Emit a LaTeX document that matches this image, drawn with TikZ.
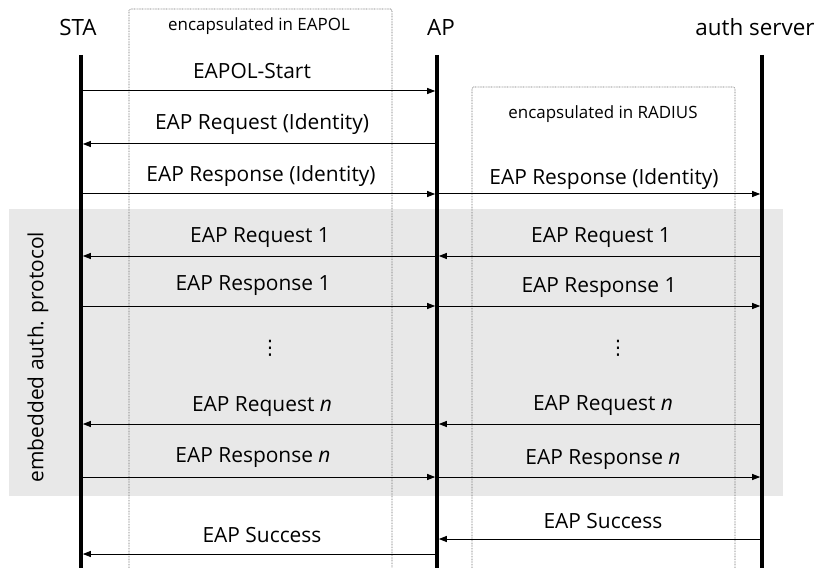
\documentclass[tikz,border=0pt]{standalone}
\usepackage{fontspec}
\setmainfont{Open Sans}
\newfontfamily\symbolfont{DejaVu Sans}
\usetikzlibrary{arrows.meta}
\definecolor{bandgray}{HTML}{E8E8E8}
\definecolor{boxline}{HTML}{707070}
\begin{document}
\begin{tikzpicture}[x=1bp,y=-1bp,
  lifeline/.style={line width=3.5bp},
  msg/.style={line width=1bp,-{Triangle[length=8bp,width=6bp]},shorten >=1.8bp,shorten <=1.8bp},
  lbl/.style={font=\fontsize{21}{24}\selectfont,inner sep=0pt},
  title/.style={font=\fontsize{22.5}{26}\selectfont,inner sep=0pt},
  small/.style={font=\fontsize{17}{20}\selectfont,inner sep=0pt},
  vdot/.style={font=\symbolfont\fontsize{20}{24}\selectfont,inner sep=0pt},
  encbox/.style={draw=boxline,line width=0.7bp,dash pattern=on 0.8bp off 0.8bp,rounded corners=1.5bp}]
\useasboundingbox (0,0) rectangle (823,568);
\clip (0,0) rectangle (823,568);

% shaded band of the embedded protocol
\fill[bandgray] (9,209) rectangle (783,496);
\node[lbl,rotate=90] (embedded) at (38,357) {embedded auth. protocol};

% encapsulation boxes
\draw[encbox] (129,600) -- (129,9) -- (392,9) -- (392,600);
\node[small] (eapol) at (259,26) {encapsulated in EAPOL};
\draw[encbox] (472,600) -- (472,87) -- (735,87) -- (735,600);
\node[small] (radius) at (603,114) {encapsulated in RADIUS};

% participants and lifelines
\node[title] (sta) at (78,27) {STA};
\node[title] (ap) at (441,27) {AP};
\node[title] (as) at (755,27) {auth server};
\foreach \n/\x in {sta/81,ap/437,as/762}{
  \coordinate (\n-top) at (\x,55);
  \coordinate (\n-bot) at (\x,580);
  \draw[lifeline] (\n-top) -- (\n-bot);
  \foreach \k/\y in {1/91,2/144,3/194,4/256,5/306,6/424,7/477,8/554,9/539}{
    \coordinate (\n\k) at (\x,\y);
  }
}

% messages between STA and AP
\draw[msg] (sta1) -- (ap1);
\node[lbl] (m1) at (252,71) {EAPOL-Start};
\draw[msg] (ap2) -- (sta2);
\node[lbl] (m2) at (262,124) {EAP Request (Identity)};
\draw[msg] (sta3) -- (ap3);
\node[lbl] (m3) at (261,176) {EAP Response (Identity)};
\draw[msg] (ap4) -- (sta4);
\node[lbl] (m4) at (260,238) {EAP Request 1};
\draw[msg] (sta5) -- (ap5);
\node[lbl] (m5) at (253,286) {EAP Response 1};
\node[vdot] (d1) at (270,348) {⋮};
\draw[msg] (ap6) -- (sta6);
\node[lbl] (m6) at (262,407) {EAP Request \textit{n}};
\draw[msg] (sta7) -- (ap7);
\node[lbl] (m7) at (253,458) {EAP Response \textit{n}};
\draw[msg] (ap8) -- (sta8);
\node[lbl] (m8) at (262,535) {EAP Success};

% messages between AP and auth server
\draw[msg] (ap3) -- (as3);
\node[lbl] (r3) at (604,179) {EAP Response (Identity)};
\draw[msg] (as4) -- (ap4);
\node[lbl] (r4) at (601,238) {EAP Request 1};
\draw[msg] (ap5) -- (as5);
\node[lbl] (r5) at (599,288) {EAP Response 1};
\node[vdot] (d2) at (618,348) {⋮};
\draw[msg] (as6) -- (ap6);
\node[lbl] (r6) at (603,406) {EAP Request \textit{n}};
\draw[msg] (ap7) -- (as7);
\node[lbl] (r7) at (603,460) {EAP Response \textit{n}};
\draw[msg] (as9) -- (ap9);
\node[lbl] (r9) at (603,521) {EAP Success};
\end{tikzpicture}
\end{document}
